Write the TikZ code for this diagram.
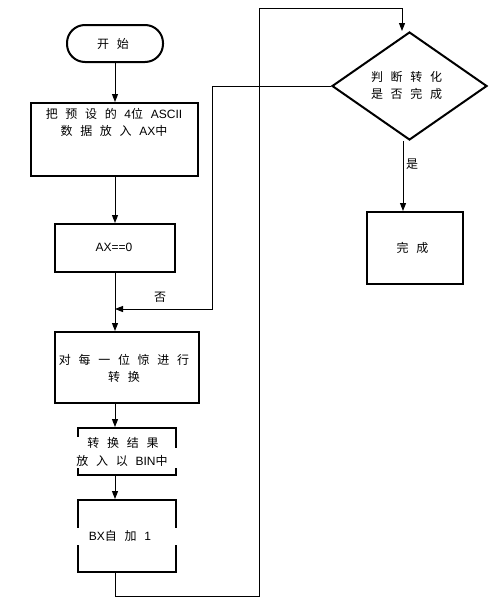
\documentclass[tikz,border=0pt]{standalone}
\usepackage{fontspec}
\setmainfont{Liberation Sans}[WordSpace=2.3]
\newfontfamily\cjk{Noto Sans CJK SC}
\newcommand\C[1]{{\cjk #1}}
\usetikzlibrary{shapes.geometric,arrows.meta}
\begin{document}
\begin{tikzpicture}[x=1pt,y=-1pt,
  every node/.style={font=\fontsize{12}{17}\selectfont, inner sep=0pt},
  procbox/.style={draw=black, line width=2pt, rectangle, fill=none},
  termbox/.style={draw=black, line width=2pt, rectangle, rounded corners=18pt},
  decbox/.style={draw=black, line width=2pt, diamond, minimum width=155pt, minimum height=108pt},
  txt/.style={align=center},
  conn/.style={draw=black, line width=1pt},
  arr/.style={conn, -{Triangle[length=8pt,width=6pt]}}]
\useasboundingbox[fill=white] (0,0) rectangle (491,600);

% shapes
\node[termbox, minimum width=96pt, minimum height=37pt] (start) at (115,43.5) {};
\node[procbox, minimum width=167pt, minimum height=73pt] (b1) at (114.5,139.5) {};
\node[procbox, minimum width=120pt, minimum height=48pt] (b2) at (115,248) {};
\node[procbox, minimum width=144pt, minimum height=71pt] (b3) at (127,367.5) {};
\node[procbox, minimum width=98pt, minimum height=47pt] (b4) at (127,451.5) {};
\node[procbox, minimum width=98pt, minimum height=72pt] (b5) at (127,536) {};
\node[decbox] (dia) at (409.5,86) {};
\node[procbox, minimum width=96pt, minimum height=72pt] (done) at (415,248) {};

% white text backgrounds that cut the box sides
\fill[white] (74,437) rectangle (82,449);
\fill[white] (74,448) rectangle (182,468);
\fill[white] (74,528) rectangle (182,545);

% texts
\node[txt] (tstart) at (113,43.5) {\C{开} \C{始}};
\node[txt] (t1) at (114,122) {\C{把} \C{预} \C{设} \C{的} 4\C{位} ASCII\\\C{数} \C{据} \C{放} \C{入} AX\C{中}};
\node[txt] (t2) at (114,247.5) {AX==0};
\node[txt] (t3) at (124,368) {\C{对} \C{每} \C{一} \C{位} \C{惊} \C{进} \C{行}\\\C{转} \C{换}};
\node[txt] (t4a) at (123,443) {\C{转} \C{换} \C{结} \C{果}};
\node[txt] (t4b) at (122,461) {\C{放} \C{入} \C{以} BIN\C{中}};
\node[txt] (t5) at (120,536) {BX\C{自} \C{加} 1};
\node[txt] (tdia) at (406.5,85.5) {\C{判} \C{断} \C{转} \C{化}\\\C{是} \C{否} \C{完} \C{成}};
\node[txt] (tdone) at (412.5,248) {\C{完} \C{成}};

% connectors
\coordinate (x) at (115,0);
\draw[arr] (x |- start.south) -- (x |- b1.north);
\draw[arr] (x |- b1.south) -- (x |- b2.north);
\draw[arr] (x |- b2.south) -- (x |- b3.north);
\draw[arr] (x |- b3.south) -- (x |- b4.north);
\draw[arr] (x |- b4.south) -- (x |- b5.north);

\coordinate (lp1) at (212,86);
\coordinate (lp2) at (212,309);
\coordinate (lp3) at (115,309);
\draw[arr] (dia.west) -- (lp1) -- (lp2) -- (lp3);
\node (no) at (160,297) {\C{否}};

\coordinate (r1) at (115,596);
\coordinate (r2) at (259,596);
\coordinate (r3) at (259,8);
\coordinate (r4) at (402,8);
\draw[arr] (x |- b5.south) -- (r1) -- (r2) -- (r3) -- (r4) -- (r4 |- dia.north);

\coordinate (y) at (403,0);
\draw[arr] (y |- dia.south) -- (y |- done.north);
\node (yes) at (412,164) {\C{是}};
\end{tikzpicture}
\end{document}
